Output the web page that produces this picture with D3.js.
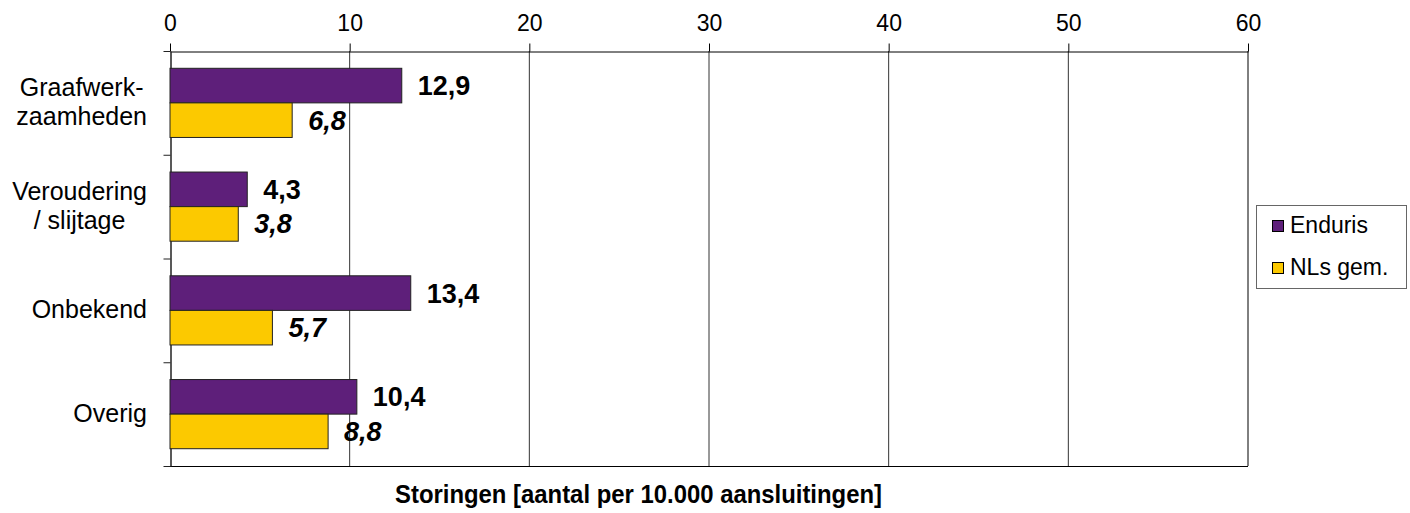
<!DOCTYPE html>
<html>
<head>
<meta charset="utf-8">
<script src="https://cdn.jsdelivr.net/npm/d3@7"></script>
<style>
  body { margin: 0; background: #fff; }
  svg text { font-family: "Liberation Sans", Arial, sans-serif; fill: #000; }
</style>
</head>
<body>
<div id="chart"></div>
<script>
// categories (each label split over lines) and the two series
const categories = [
  ["Graafwerk-", "zaamheden"],
  ["Veroudering", "/ slijtage"],
  ["Onbekend"],
  ["Overig"]
];
const enduris = [12.9, 4.3, 13.4, 10.4];
const nlsGem = [6.8, 3.8, 5.7, 8.8];
const seriesNames = ["Enduris", "NLs gem."];
const seriesColors = ["#5e1f7a", "#fcc900"];
const xTicks = [0, 10, 20, 30, 40, 50, 60];
const xTitle = "Storingen [aantal per 10.000 aansluitingen]";

const width = 1410, height = 513;
const plotLeft = 170, plotRight = 1248, plotTop = 51, plotBottom = 466;

const svg = d3.select("#chart")
  .append("svg")
  .attr("width", width)
  .attr("height", height);

const x = d3.scaleLinear()
  .domain([0, 60])
  .range([plotLeft, plotRight]);

const y = d3.scaleBand()
  .domain(d3.range(categories.length))
  .range([plotTop, plotBottom]);

const bw = y.bandwidth();
const ySub = d3.scaleBand()
  .domain([0, 1])
  .range([bw / 6, bw * 5 / 6]);

const fmt = v => d3.format(".1f")(v).replace(".", ",");

// vertical gridlines
svg.append("g")
  .selectAll("line")
  .data(xTicks.slice(1))
  .enter()
  .append("line")
  .attr("x1", d => x(d)).attr("x2", d => x(d))
  .attr("y1", plotTop).attr("y2", plotBottom)
  .attr("stroke", d => d === 60 ? "#000" : "#333")
  .attr("stroke-width", 1);

// bottom border
svg.append("line")
  .attr("x1", plotLeft).attr("x2", plotRight)
  .attr("y1", plotBottom + 0.5).attr("y2", plotBottom + 0.5)
  .attr("stroke", "#000");

// top axis
const topAxis = svg.append("g")
  .attr("transform", "translate(0," + (plotTop + 0.5) + ")")
  .call(d3.axisTop(x).tickValues(xTicks).tickSize(8).tickSizeOuter(0).tickPadding(13));
topAxis.select(".domain").attr("stroke", "#000");
topAxis.selectAll("line").attr("stroke", "#000");
topAxis.selectAll("text")
  .style("font-size", "23px")
  .style("font-family", "Liberation Sans, Arial, sans-serif")
  .attr("fill", "#000");

// left axis, ticks at band boundaries
const yEdge = d3.scaleLinear().domain([0, categories.length]).range([plotTop, plotBottom]);
const leftAxis = svg.append("g")
  .attr("transform", "translate(" + (plotLeft + 0.5) + ",0)")
  .call(d3.axisLeft(yEdge).tickValues(d3.range(categories.length + 1)).tickFormat("").tickSize(7).tickSizeOuter(0));
leftAxis.select(".domain").attr("stroke", "#222").attr("stroke-width", 1.5);
leftAxis.selectAll("line").attr("stroke", "#222");

// category labels: block right aligned, lines centred inside the block
const catG = svg.append("g");
categories.forEach((lines, i) => {
  const cy = y(i) + bw / 2;
  const t = catG.append("text")
    .attr("text-anchor", "middle")
    .style("font-size", "25px");
  const spans = lines.map((ln, j) => {
    const off = lines.length === 1 ? 8 : (j === 0 ? -7 : 22);
    return t.append("tspan")
      .attr("y", cy + off)
      .text(ln);
  });
  const maxW = d3.max(spans, sp => sp.node().getComputedTextLength());
  spans.forEach(sp => sp.attr("x", 147 - maxW / 2));
});

// bars
const series = [enduris, nlsGem];
series.forEach((vals, s) => {
  const g = svg.append("g");
  g.selectAll("rect")
    .data(vals)
    .enter()
    .append("rect")
    .attr("x", x(0))
    .attr("y", (d, i) => y(i) + ySub(s))
    .attr("width", d => x(d) - x(0))
    .attr("height", ySub.bandwidth())
    .attr("fill", seriesColors[s])
    .attr("stroke", "#222")
    .attr("stroke-width", 1);

  g.selectAll("text")
    .data(vals)
    .enter()
    .append("text")
    .attr("x", d => x(d) + 16)
    .attr("y", (d, i) => y(i) + ySub(s) + ySub.bandwidth() / 2 + 9.5)
    .style("font-size", "27px")
    .style("font-weight", "bold")
    .style("font-style", s === 1 ? "italic" : "normal")
    .text(d => fmt(d));
});

// legend
const legend = svg.append("g").attr("transform", "translate(1256,205)");
legend.append("rect")
  .attr("x", 0.5).attr("y", 0.5)
  .attr("width", 150).attr("height", 83)
  .attr("fill", "#fff")
  .attr("stroke", "#666");
seriesNames.forEach((name, i) => {
  legend.append("rect")
    .attr("x", 16.5).attr("y", 15.5 + i * 42)
    .attr("width", 11).attr("height", 11)
    .attr("fill", seriesColors[i])
    .attr("stroke", "#000");
  legend.append("text")
    .attr("x", 34).attr("y", 28 + i * 42)
    .style("font-size", "23px")
    .text(name);
});

// x axis title
svg.append("text")
  .attr("x", 395)
  .attr("y", 503)
  .attr("textLength", 487)
  .attr("lengthAdjust", "spacingAndGlyphs")
  .style("font-size", "25px")
  .style("font-weight", "bold")
  .text(xTitle);
</script>
</body>
</html>
